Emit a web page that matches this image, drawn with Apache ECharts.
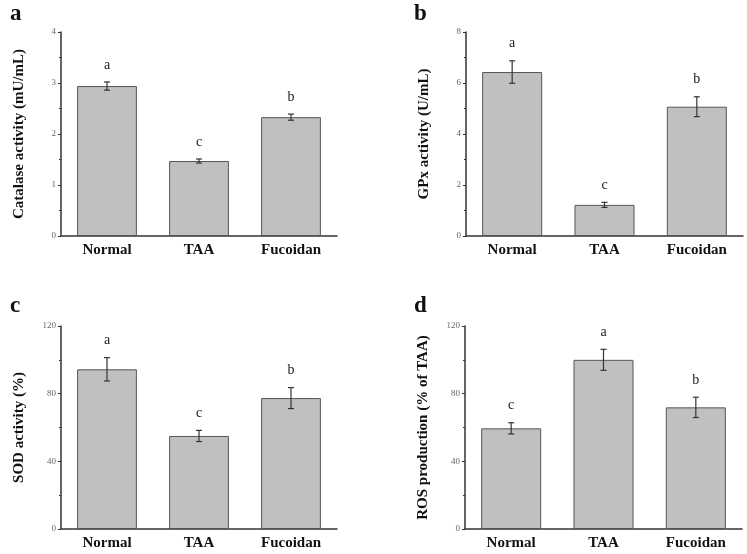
<!DOCTYPE html>
<html><head><meta charset="utf-8">
<script src="https://cdn.jsdelivr.net/npm/echarts@6/dist/echarts.min.js"></script>
<style>html,body{margin:0;padding:0;background:#fff}#c{width:747px;height:554px}</style>
</head><body><div id="c"></div>
<script>
const categories = ['Normal', 'TAA', 'Fucoidan'];
const panelLabels = ['a', 'b', 'c', 'd'];
const yTitles = ['Catalase activity (mU/mL)', 'GPx activity (U/mL)', 'SOD activity (%)', 'ROS production (% of TAA)'];
const yMax = [4, 8, 120, 120];
const yInterval = [1, 2, 40, 40];

const catalaseMean = [2.94, 1.47, 2.33];
const catalaseErr = [0.08, 0.04, 0.06];
const catalaseLetters = ['a', 'c', 'b'];

const gpxMean = [6.43, 1.22, 5.07];
const gpxErr = [0.44, 0.10, 0.39];
const gpxLetters = ['a', 'c', 'b'];

const sodMean = [94.4, 55.0, 77.4];
const sodErr = [6.9, 3.3, 6.2];
const sodLetters = ['a', 'c', 'b'];

const rosMean = [59.5, 100.0, 71.9];
const rosErr = [3.3, 6.2, 6.0];
const rosLetters = ['c', 'a', 'b'];

const means = [catalaseMean, gpxMean, sodMean, rosMean];
const errs = [catalaseErr, gpxErr, sodErr, rosErr];
const letters = [catalaseLetters, gpxLetters, sodLetters, rosLetters];

const FONT = '"Liberation Serif", "Times New Roman", serif';
const grids = [
  {left: 61, top: 32, width: 276, height: 204},
  {left: 466, top: 32, width: 277, height: 204},
  {left: 61, top: 326, width: 276, height: 203},
  {left: 465, top: 326, width: 277, height: 203}
];
const labelPos = [[10, 3], [414, 3], [10, 295], [414, 295]];

const xAxis = [], yAxis = [], series = [], title = [];
for (let i = 0; i < 4; i++) {
  xAxis.push({
    type: 'category', gridIndex: i, data: categories,
    axisLine: {lineStyle: {color: '#333', width: 1.5}},
    axisTick: {show: false},
    axisLabel: {fontFamily: FONT, fontWeight: 'bold', fontSize: 15, color: '#111', margin: 7}
  });
  yAxis.push({
    type: 'value', gridIndex: i, min: 0, max: yMax[i], interval: yInterval[i],
    name: yTitles[i], nameLocation: 'middle', nameGap: 34,
    nameTextStyle: {fontFamily: FONT, fontWeight: 'bold', fontSize: 15, color: '#111'},
    axisLine: {show: true, lineStyle: {color: '#333', width: 1.5}},
    axisTick: {show: true, length: 3, lineStyle: {color: '#333'}},
    minorTick: {show: true, splitNumber: 2, length: 2, lineStyle: {color: '#333'}},
    splitLine: {show: false},
    axisLabel: {fontFamily: FONT, fontSize: 9, color: '#666', margin: 5}
  });
  title.push({
    text: panelLabels[i], left: labelPos[i][0], top: labelPos[i][1], padding: 0,
    textStyle: {fontFamily: FONT, fontWeight: 'bold', fontSize: 23, color: '#111'}
  });
  series.push({
    type: 'bar', xAxisIndex: i, yAxisIndex: i, data: means[i], barWidth: '65%',
    itemStyle: {color: '#c0c0c0', borderColor: '#555', borderWidth: 1},
    silent: true
  });
  const ed = means[i].map((m, k) => [k, m - errs[i][k], m + errs[i][k], letters[i][k]]);
  series.push({
    type: 'custom', xAxisIndex: i, yAxisIndex: i, data: ed,
    encode: {x: 0, y: [1, 2]},
    silent: true, z: 5,
    renderItem: function (params, api) {
      const x = api.value(0);
      const lo = api.coord([x, api.value(1)]);
      const hi = api.coord([x, api.value(2)]);
      const cap = 3;
      const st = {stroke: '#333', lineWidth: 1.2};
      return {
        type: 'group',
        children: [
          {type: 'line', shape: {x1: lo[0], y1: lo[1], x2: hi[0], y2: hi[1]}, style: st},
          {type: 'line', shape: {x1: lo[0] - cap, y1: lo[1], x2: lo[0] + cap, y2: lo[1]}, style: st},
          {type: 'line', shape: {x1: hi[0] - cap, y1: hi[1], x2: hi[0] + cap, y2: hi[1]}, style: st},
          {type: 'text', x: hi[0], y: hi[1] - 10,
           style: {text: ed[params.dataIndex][3], fill: '#222', font: '14px ' + FONT,
                   textAlign: 'center', textVerticalAlign: 'bottom'}}
        ]
      };
    }
  });
}

const chart = echarts.init(document.getElementById('c'), null, {renderer: 'canvas'});
chart.setOption({
  animation: false, backgroundColor: '#fff',
  title, grid: grids, xAxis, yAxis, series
});
</script></body></html>
